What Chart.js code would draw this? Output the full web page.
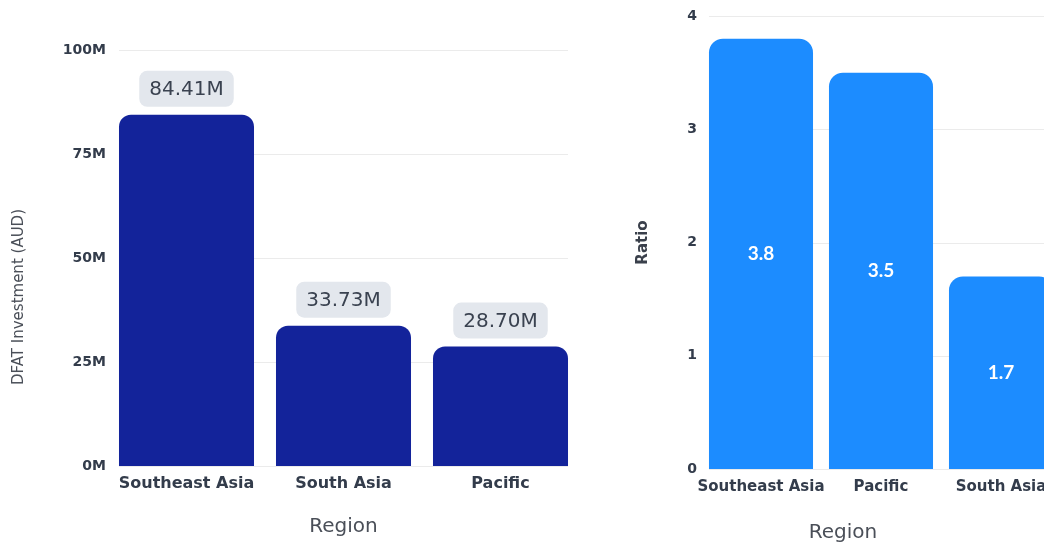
<!DOCTYPE html>
<html>
<head>
<meta charset="utf-8">
<script src="https://cdn.jsdelivr.net/npm/chart.js@4.4.1/dist/chart.umd.min.js"></script>
<style>
  html, body { margin:0; padding:0; background:#fff; width:1044px; height:542px; overflow:hidden; position:relative; }
  #investment { position:absolute; left:0; top:0; }
  #ratio { position:absolute; left:620px; top:0; }
  .axisTitle { position:absolute; text-align:center; font:20px "DejaVu Sans"; color:#4a4f58; white-space:nowrap; }
  #ratioTitle { left:793px; width:100px; top:519px; }
  #investTitle { left:-82px; width:200px; top:288px; font-size:15px; transform:rotate(-90deg); }
</style>
</head>
<body>
<canvas id="investment" width="600" height="542"></canvas>
<canvas id="ratio" width="460" height="542"></canvas>
<div class="axisTitle" id="investTitle">DFAT Investment (AUD)</div>
<div class="axisTitle" id="ratioTitle">Region</div>
<script>
// dati
var investRegions = ["Southeast Asia", "South Asia", "Pacific"];
var investValues = [84.41, 33.73, 28.70]; // milioni AUD
var investTicks = [0, 25, 50, 75, 100];

var ratioRegions = ["Southeast Asia", "Pacific", "South Asia"];
var ratioValues = [3.8, 3.5, 1.7];
var ratioTicks = [0, 1, 2, 3, 4];

var tickColor = '#333c4b';

// griglia orizzontale solo sopra le barre
var gridLines = {
  id: 'gridLines',
  beforeDatasetsDraw: function(chart){
    var bars = chart.getDatasetMeta(0).data;
    var x0 = bars[0].x - bars[0].width / 2;
    var x1 = bars[bars.length - 1].x + bars[bars.length - 1].width / 2;
    var ys = chart.scales.y;
    var ctx = chart.ctx;
    ctx.save();
    ctx.strokeStyle = '#ebebeb';
    ctx.lineWidth = 1;
    for (var i = 0; i < ys.ticks.length; i++) {
      var y = Math.round(ys.getPixelForValue(ys.ticks[i].value)) + 0.5;
      ctx.beginPath();
      ctx.moveTo(x0, y);
      ctx.lineTo(x1, y);
      ctx.stroke();
    }
    ctx.restore();
  }
};

// etichette dei valori
var barLabels = {
  id: 'barLabels',
  afterDatasetsDraw: function(chart, args, opts){
    var ctx = chart.ctx;
    var valori = chart.data.datasets[0].data;
    var bars = chart.getDatasetMeta(0).data;
    for (var i = 0; i < bars.length; i++) {
      var bar = bars[i];
      var txt = valori[i].toFixed(opts.decimals) + opts.suffix;
      ctx.save();
      ctx.font = opts.font;
      ctx.textAlign = 'center';
      ctx.textBaseline = 'middle';
      if (opts.boxed) {
        var w = ctx.measureText(txt).width + 2 * opts.padX;
        var h = opts.boxHeight;
        var by = bar.y - opts.gap - h;
        ctx.fillStyle = opts.boxColor;
        ctx.beginPath();
        ctx.roundRect(bar.x - w / 2, by, w, h, opts.radius);
        ctx.fill();
        ctx.fillStyle = opts.color;
        ctx.fillText(txt, bar.x, by + h / 2 + 1);
      } else {
        ctx.fillStyle = opts.color;
        ctx.fillText(txt, bar.x, (bar.y + bar.base) / 2);
      }
      ctx.restore();
    }
  }
};

function drawInvestment(etichette, valori){
  var ctx = document.getElementById('investment').getContext('2d');
  new Chart(ctx, {
    type: 'bar',
    data: {
      labels: etichette,
      datasets: [{
        data: valori,
        backgroundColor: '#13239a',
        borderRadius: 12,
        borderSkipped: 'bottom',
        barPercentage: 0.86,
        categoryPercentage: 1
      }]
    },
    plugins: [gridLines, barLabels],
    options: {
      responsive: false,
      animation: false,
      layout: { padding: { top: 50, right: 21, bottom: 0, left: 0 } },
      plugins: {
        legend: { display: false },
        tooltip: { enabled: false },
        barLabels: {
          boxed: true, decimals: 2, suffix: 'M',
          font: '20px "DejaVu Sans"', color: '#3a4250',
          boxColor: '#e3e7ed', padX: 10, boxHeight: 36, gap: 8, radius: 8
        }
      },
      scales: {
        x: {
          grid: { display: false, drawTicks: false },
          border: { display: false },
          ticks: { color: tickColor, padding: 8, maxRotation: 0, minRotation: 0, autoSkip: false,
                   font: { family: 'DejaVu Sans', weight: 'bold', size: 16 } },
          title: { display: true, text: 'Region', color: '#4a4f58', padding: { top: 0, bottom: 3 }, font: { family: 'DejaVu Sans', size: 20 } },
          afterFit: function(s){ s.height = 76; }
        },
        y: {
          min: investTicks[0],
          max: investTicks[investTicks.length - 1],
          afterBuildTicks: function(s){ s.ticks = investTicks.map(function(v){ return { value: v }; }); },
          grid: { display: false, drawTicks: false },
          border: { display: false },
          ticks: {
            color: tickColor, padding: 2,
            font: { family: 'DejaVu Sans', weight: 'bold', size: 14 },
            callback: function(v){ return v + 'M'; }
          },
          title: { display: false },
          afterFit: function(s){ s.width = 108; }
        }
      }
    }
  });
}

function drawRatio(etichette, valori){
  var ctx = document.getElementById('ratio').getContext('2d');
  new Chart(ctx, {
    type: 'bar',
    data: {
      labels: etichette,
      datasets: [{
        data: valori,
        backgroundColor: '#1c8cff',
        borderRadius: 14,
        borderSkipped: 'bottom',
        barPercentage: 0.867,
        categoryPercentage: 1
      }]
    },
    plugins: [gridLines, barLabels],
    options: {
      responsive: false,
      animation: false,
      layout: { padding: { top: 16, right: 19, bottom: 0, left: 0 } },
      plugins: {
        legend: { display: false },
        tooltip: { enabled: false },
        barLabels: {
          boxed: false, decimals: 1, suffix: '',
          font: 'bold 19px Lato', color: '#ffffff'
        }
      },
      scales: {
        x: {
          grid: { display: false, drawTicks: false },
          border: { display: false },
          ticks: { color: tickColor, padding: 9, maxRotation: 0, minRotation: 0, autoSkip: false,
                   font: { family: 'DejaVu Sans', weight: 'bold', size: 15 } },
          title: { display: false },
          afterFit: function(s){ s.height = 73; }
        },
        y: {
          min: ratioTicks[0],
          max: ratioTicks[ratioTicks.length - 1],
          afterBuildTicks: function(s){ s.ticks = ratioTicks.map(function(v){ return { value: v }; }); },
          grid: { display: false, drawTicks: false },
          border: { display: false },
          ticks: { color: tickColor, padding: 4, font: { family: 'DejaVu Sans', weight: 'bold', size: 14 } },
          title: { display: true, text: 'Ratio', color: '#3a404b', padding: { top: 14, bottom: 0 }, font: { family: 'DejaVu Sans', weight: 'bold', size: 15 } },
          afterFit: function(s){ s.width = 81; }
        }
      }
    }
  });
}

function init(){
  drawInvestment(investRegions, investValues);
  drawRatio(ratioRegions, ratioValues);
}

init();
</script>
</body>
</html>
